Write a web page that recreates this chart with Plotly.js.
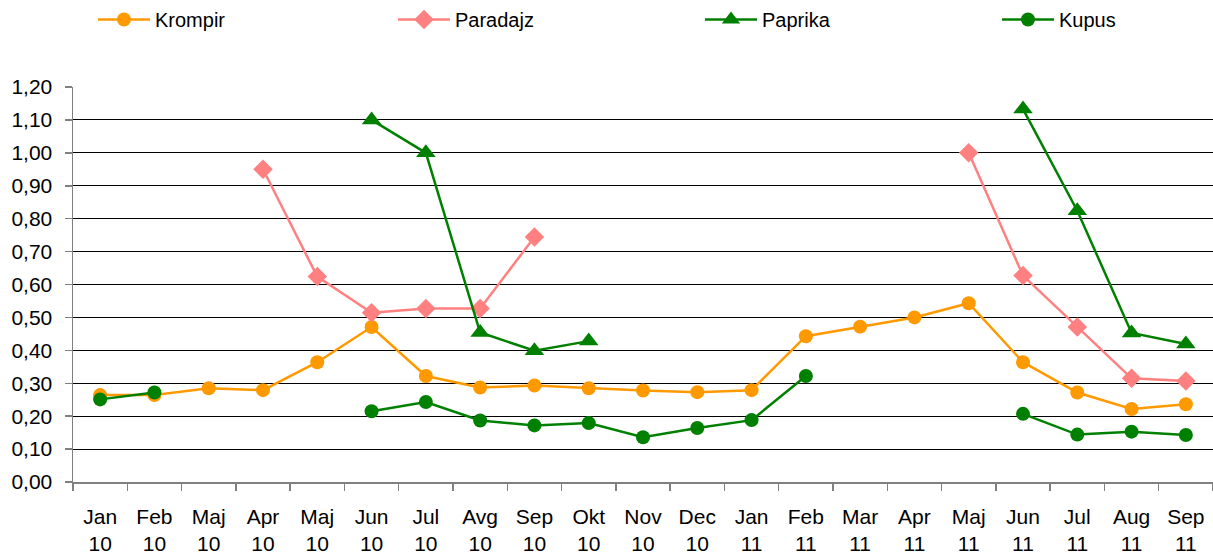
<!DOCTYPE html>
<html>
<head>
<meta charset="utf-8">
<script src="https://cdn.plot.ly/plotly-3.0.1.min.js"></script>
<style>html,body{margin:0;padding:0;background:#fff;}#chart{width:1213px;height:554px;}</style>
</head>
<body>
<div id="chart"></div>
<script>
const months = ["Jan","Feb","Maj","Apr","Maj","Jun","Jul","Avg","Sep","Okt","Nov","Dec","Jan","Feb","Mar","Apr","Maj","Jun","Jul","Aug","Sep"];
const years  = ["10","10","10","10","10","10","10","10","10","10","10","10","11","11","11","11","11","11","11","11","11"];

const krompir  = [0.264,0.264,0.285,0.279,0.364,0.471,0.322,0.287,0.293,0.285,0.278,0.273,0.279,0.443,0.472,0.500,0.543,0.364,0.272,0.222,0.236];
const paradajz = [null,null,null,0.950,0.624,0.514,0.527,0.527,0.744,null,null,null,null,null,null,null,1.000,0.627,0.471,0.315,0.307];
const paprika  = [null,null,null,null,null,1.100,1.000,0.454,0.399,0.428,null,null,null,null,null,null,null,1.133,0.824,0.453,0.419];
const kupus    = [0.251,0.272,null,null,null,0.215,0.243,0.187,0.172,0.179,0.136,0.164,0.188,0.322,null,null,null,0.207,0.144,0.153,0.143];

const xIdx = months.map((_, i) => i);
const tickText = months.map((m, i) => m + "<br>" + years[i]);
const boundaries = months.map((_, i) => i - 0.5).concat([months.length - 0.5]);

function series(name, y, color, symbol, size, legendId) {
  return {
    type: "scatter", mode: "lines+markers", name: name,
    x: xIdx, y: y, connectgaps: false,
    line: {color: color, width: 2.5},
    marker: {color: color, symbol: symbol, size: size, line: {width: 0}},
    legend: legendId,
    hoverinfo: "skip"
  };
}

const data = [
  series("Krompir", krompir, "#FF9900", "circle", 14, "legend"),
  series("Paradajz", paradajz, "#FF8080", "diamond", 15, "legend2"),
  series("Paprika", paprika, "#008000", "triangle-up", 17, "legend3"),
  series("Kupus", kupus, "#008000", "circle", 14, "legend4")
];

function legendAt(px) {
  return {
    orientation: "h", xref: "container", yref: "container",
    x: px / 1213, y: 1.0, xanchor: "left", yanchor: "top",
    itemwidth: 52,
    font: {size: 20, family: "Liberation Sans, Arial, sans-serif", color: "#000"},
    bgcolor: "rgba(0,0,0,0)"
  };
}

const layout = {
  width: 1213, height: 554,
  margin: {l: 73, r: 0, t: 87, b: 72, pad: 0},
  paper_bgcolor: "#ffffff", plot_bgcolor: "#ffffff",
  separators: ",.",
  font: {family: "Liberation Sans, Arial, sans-serif", size: 21, color: "#000"},
  showlegend: true,
  legend: legendAt(93),
  legend2: legendAt(393),
  legend3: legendAt(700),
  legend4: legendAt(997),
  xaxis: {
    range: [-0.5, months.length - 0.5],
    tickmode: "array", tickvals: xIdx, ticktext: tickText,
    ticks: "", showgrid: false, zeroline: false,
    showline: true, linecolor: "#808080", linewidth: 1.5,
    ticklabelstandoff: 15,
    tickfont: {size: 21},
    minor: {tickmode: "array", tickvals: boundaries, ticks: "outside", ticklen: 7, tickcolor: "#808080", tickwidth: 1.5, showgrid: false}
  },
  yaxis: {
    range: [0, 1.2], tickmode: "linear", tick0: 0, dtick: 0.1,
    tickformat: ".2f",
    ticks: "outside", ticklen: 7, tickcolor: "#808080", tickwidth: 1.5,
    showline: true, linecolor: "#808080", linewidth: 1.5,
    showgrid: true, gridcolor: "#000000", gridwidth: 1,
    zeroline: false,
    ticklabelstandoff: 8,
    tickfont: {size: 21}
  }
};

Plotly.newPlot("chart", data, layout, {displayModeBar: false, staticPlot: true});
</script>
</body>
</html>
